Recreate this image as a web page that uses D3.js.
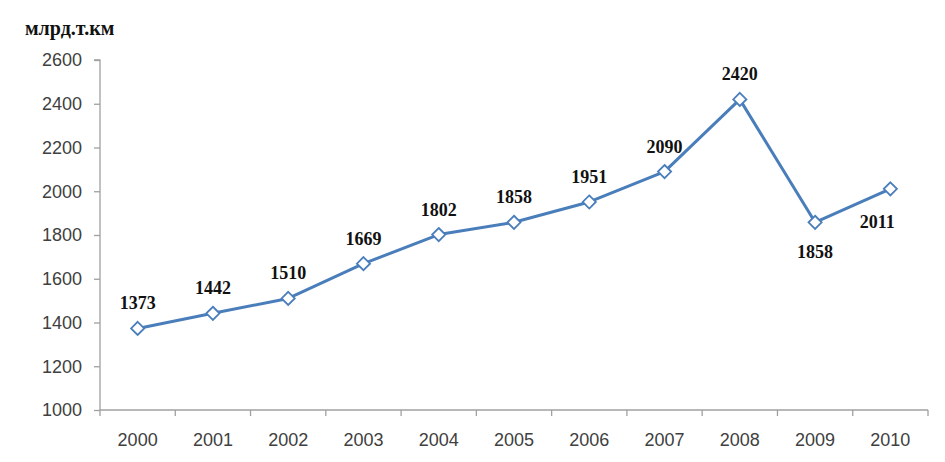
<!DOCTYPE html>
<html>
<head>
<meta charset="utf-8">
<script src="https://cdn.jsdelivr.net/npm/d3@7"></script>
<style>
  body { margin: 0; background: #fff; }
</style>
</head>
<body>
<div id="graph"></div>
<script>
const years = ['2000', '2001', '2002', '2003', '2004', '2005', '2006', '2007', '2008', '2009', '2010'];
const values = [1373, 1442, 1510, 1669, 1802, 1858, 1951, 2090, 2420, 1858, 2011];
const yTicks = [1000, 1200, 1400, 1600, 1800, 2000, 2200, 2400, 2600];
// label placement: 'above' or 'below'
const labelPos = ['above', 'above', 'above', 'above', 'above', 'above', 'above', 'above', 'above', 'below', 'belowLeft'];
const unitLabel = 'млрд.т.км';

let width = 945,
  height = 462;
let margin = { top: 60, right: 17, bottom: 52, left: 100 };

let svg = d3.select('#graph').append('svg')
  .attr('width', width)
  .attr('height', height);

let xScale = d3.scaleBand()
  .domain(years)
  .range([margin.left, width - margin.right]);

let yScale = d3.scaleLinear()
  .domain([1000, 2600])
  .range([height - margin.bottom, margin.top]);

const axisColor = '#a0a0a0';
const textColor = '#404040';
const tickFont = '"Liberation Sans", Arial, sans-serif';

// y axis
let yAxis = d3.axisLeft(yScale).tickValues(yTicks).tickFormat(d3.format('d')).tickSize(6).tickPadding(12);
let gy = svg.append('g')
  .attr('transform', 'translate(' + margin.left + ',0)')
  .call(yAxis);
gy.select('.domain').attr('stroke', axisColor).attr('stroke-width', 1.3)
  .attr('d', 'M-6,' + margin.top + 'H0V' + (height - margin.bottom));
gy.selectAll('.tick line').attr('stroke', axisColor).attr('stroke-width', 1.3);
gy.selectAll('.tick text')
  .attr('fill', textColor)
  .attr('font-family', tickFont)
  .attr('font-size', 18);

// x axis with ticks between categories
let x0 = margin.left, x1 = width - margin.right;
let gx = svg.append('g')
  .attr('transform', 'translate(0,' + (height - margin.bottom) + ')');
gx.append('line')
  .attr('x1', x0).attr('x2', x1)
  .attr('stroke', axisColor).attr('stroke-width', 1.3);
let bounds = years.map((d) => xScale(d)).concat([x1]);
gx.selectAll('line.tk').data(bounds).join('line')
  .attr('class', 'tk')
  .attr('x1', (d) => d).attr('x2', (d) => d)
  .attr('y1', 0).attr('y2', 6)
  .attr('stroke', axisColor).attr('stroke-width', 1.3);
gx.selectAll('text').data(years).join('text')
  .attr('x', (d) => xScale(d) + xScale.bandwidth() / 2)
  .attr('y', 36)
  .attr('text-anchor', 'middle')
  .attr('fill', textColor)
  .attr('font-family', tickFont)
  .attr('font-size', 18)
  .text((d) => d);

// unit label
svg.append('text')
  .attr('x', 25)
  .attr('y', 35)
  .attr('font-family', '"Liberation Serif", "DejaVu Serif", serif')
  .attr('font-weight', 'bold')
  .attr('font-size', 20)
  .attr('fill', '#111')
  .text(unitLabel);

let data = years.map((y, i) => ({ year: y, value: values[i], pos: labelPos[i] }));
let cx = (d) => xScale(d.year) + xScale.bandwidth() / 2;

let line = d3.line()
  .x(cx)
  .y((d) => yScale(d.value));

svg.append('path')
  .datum(data)
  .attr('fill', 'none')
  .attr('stroke', '#4a7ebb')
  .attr('stroke-width', 3)
  .attr('stroke-linejoin', 'round')
  .attr('d', line);

svg.selectAll('path.mk').data(data).join('path')
  .attr('class', 'mk')
  .attr('d', d3.symbol().type(d3.symbolDiamond2).size(110))
  .attr('transform', (d) => 'translate(' + cx(d) + ',' + yScale(d.value) + ')')
  .attr('fill', '#fff')
  .attr('stroke', '#4a7ebb')
  .attr('stroke-width', 1.8);

svg.selectAll('text.lbl').data(data).join('text')
  .attr('class', 'lbl')
  .attr('x', (d) => d.pos === 'belowLeft' ? cx(d) - 13 : cx(d))
  .attr('y', (d) => {
    let py = yScale(d.value);
    if (d.pos === 'below') return py + 36;
    if (d.pos === 'belowLeft') return py + 39;
    return py - 19;
  })
  .attr('text-anchor', 'middle')
  .attr('font-family', '"Liberation Serif", "DejaVu Serif", serif')
  .attr('font-weight', 'bold')
  .attr('font-size', 18)
  .attr('fill', '#111')
  .text((d) => d.value);
</script>
</body>
</html>
